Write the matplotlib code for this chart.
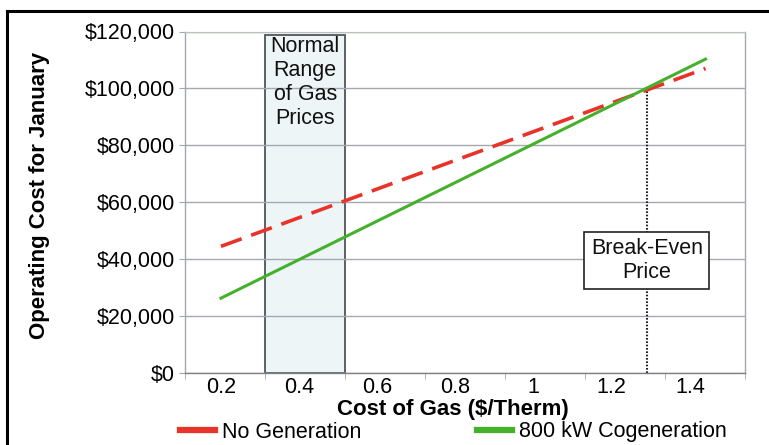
import numpy as np
import matplotlib
matplotlib.use("Agg")
import matplotlib.pyplot as plt
from matplotlib.lines import Line2D

# ---- data ----
gas_price = [0.2, 1.44]
no_generation = [44500, 107000]
cogeneration = [26300, 110300]
normal_range = [0.313, 0.518]
break_even_price = 1.29
break_even_cost = 100000
x_ticks = [0.2, 0.4, 0.6, 0.8, 1.0, 1.2, 1.4]
x_tick_labels = ["0.2", "0.4", "0.6", "0.8", "1", "1.2", "1.4"]
y_ticks = [0, 20000, 40000, 60000, 80000, 100000, 120000]
y_tick_labels = ["$0", "$20,000", "$40,000", "$60,000", "$80,000", "$100,000", "$120,000"]

plt.rcParams['font.family'] = ['Liberation Sans', 'DejaVu Sans']

W, H = 769, 445
FS = 15.5
fig = plt.figure(figsize=(W / 100, H / 100), dpi=100)
ax = fig.add_axes([185 / W, 1 - 373 / H, 560 / W, 341.5 / H])

RED = '#e8332b'
GREEN = '#45b02c'
GRID = '#a4a8b0'

ax.set_xlim(0.108, 1.541)
ax.set_ylim(0, 120000)

ax.set_axisbelow(True)
ax.yaxis.grid(True, color=GRID, lw=1.0, zorder=0.5)

# normal range box
ax.axvspan(normal_range[0], normal_range[1], ymin=0, ymax=0.99,
           facecolor='#eef5f6', edgecolor='#50555c', lw=1.3, zorder=0.4)
ax.text((normal_range[0] + normal_range[1]) / 2, 118500,
        "Normal\nRange\nof Gas\nPrices", ha='center', va='top',
        fontsize=FS, linespacing=1.2, color='#111111', zorder=3)

ax.plot(gas_price, no_generation, color=RED, lw=2.6, dashes=(6.1, 2.8), zorder=3,
        label='No Generation')
ax.plot(gas_price, cogeneration, color=GREEN, lw=2.2, zorder=3,
        label='800 kW Cogeneration')

# break-even
ax.plot([break_even_price, break_even_price], [0, break_even_cost],
        color='#222222', lw=1.5, ls=(0, (0.8, 0.8)), zorder=2)
ax.text(break_even_price, 39500, "Break-Even\nPrice", ha='center', va='center',
        fontsize=FS, linespacing=1.15, color='#111111', zorder=4,
        bbox=dict(boxstyle='square,pad=0.3', fc='white', ec='#222222', lw=1.2))

ax.set_xticks(x_ticks)
ax.set_xticklabels(x_tick_labels, fontsize=FS)
ax.set_yticks(y_ticks)
ax.set_yticklabels(y_tick_labels, fontsize=FS)
ax.tick_params(axis='x', length=0, pad=3)
ax.tick_params(axis='y', length=4.5, color=GRID, pad=3)
ax.set_xticks(np.linspace(0.108, 1.541, 8), minor=True)
ax.tick_params(axis='x', which='minor', length=4.5, color=GRID, direction='out')

for s in ['left', 'right', 'bottom']:
    ax.spines[s].set_color(GRID)
    ax.spines[s].set_linewidth(1.0)
ax.spines['bottom'].set_color('#7d8088')
ax.spines['top'].set_color('#b8c4b8')

fig.text(453 / W, 1 - 414.5 / H, "Cost of Gas ($/Therm)", ha='center', va='baseline',
         fontsize=16, fontweight='bold')
fig.text(40 / W, 1 - 195 / H, "Operating Cost for January", ha='center', va='center',
         rotation=90, fontsize=16, fontweight='bold')

handles = [Line2D([], [], color=RED, lw=4.5), Line2D([], [], color=GREEN, lw=4.5)]
fig.legend(handles, ['No Generation', '800 kW Cogeneration'], loc='center',
           bbox_to_anchor=(453.5 / W, 1 - 432 / H), ncol=2, frameon=False,
           fontsize=FS, handlelength=1.63, handletextpad=0.33, columnspacing=5.35,
           borderpad=0, borderaxespad=0)

# figure border (top and left)
fig.add_artist(Line2D([7 / W, 1], [1 - 11 / H, 1 - 11 / H], color='black', lw=2.2,
                      transform=fig.transFigure))
fig.add_artist(Line2D([7 / W, 7 / W], [0, 1 - 11 / H], color='black', lw=2.2,
                      transform=fig.transFigure))

fig.savefig('out.png', dpi=100)
